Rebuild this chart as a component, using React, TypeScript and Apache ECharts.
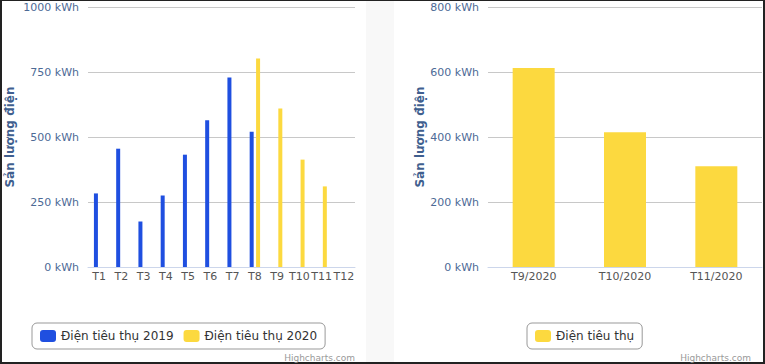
import React, { useEffect, useRef } from "react";
import * as echarts from "echarts";

const months = ["T1", "T2", "T3", "T4", "T5", "T6", "T7", "T8", "T9", "T10", "T11", "T12"];
const consumption2019 = [283, 455, 175, 275, 432, 564, 729, 520, null, null, null, null];
const consumption2020 = [null, null, null, null, null, null, null, 802, 610, 413, 310, null];
const recentMonths = ["T9/2020", "T10/2020", "T11/2020"];
const recentConsumption = [612, 415, 310];
const seriesNames = ["Điện tiêu thụ 2019", "Điện tiêu thụ 2020", "Điện tiêu thụ"];
const axisTitle = "Sản lượng điện";
const leftMax = 1000;
const leftInterval = 250;
const rightMax = 800;
const rightInterval = 200;

const BLUE = "#1f4fe0";
const YELLOW = "#fcd93f";
const FONT = "DejaVu Sans";
const LABEL_BLUE = "#4d6a96";

function yAxisFor(gridIndex: number, max: number, interval: number, nameGap: number) {
  return {
    type: "value",
    gridIndex,
    min: 0,
    max,
    interval,
    name: axisTitle,
    nameLocation: "middle",
    nameGap,
    nameTextStyle: { color: "#3f5f8f", fontWeight: "bold", fontSize: 12, fontFamily: FONT },
    axisLine: { show: false },
    axisTick: { show: false },
    axisLabel: {
      formatter: (v: number) => `${v} kWh`,
      color: LABEL_BLUE,
      fontSize: 11,
      fontFamily: FONT,
      margin: 9,
    },
    splitLine: { lineStyle: { color: "#c8c8c8", width: 1 } },
  };
}

function xAxisFor(gridIndex: number, data: string[]) {
  return {
    type: "category",
    gridIndex,
    data,
    axisLine: { lineStyle: { color: "#ccd6eb" } },
    axisTick: { alignWithLabel: false, length: 5, lineStyle: { color: "#ccd6eb" } },
    axisLabel: { color: "#555", fontSize: 11, fontFamily: FONT, margin: 4, interval: 0 },
  };
}

export default function App() {
  const ref = useRef<HTMLDivElement>(null);
  useEffect(() => {
    if (!ref.current) return;
    const chart = echarts.init(ref.current, undefined, { renderer: "svg" });
    chart.setOption({
      animation: false,
      backgroundColor: "transparent",
      textStyle: { fontFamily: FONT },
      grid: [
        { left: 88, right: 410, top: 7, bottom: 97 },
        { left: 488, right: 3, top: 7, bottom: 97 },
      ],
      xAxis: [xAxisFor(0, months), xAxisFor(1, recentMonths)],
      yAxis: [
        yAxisFor(0, leftMax, leftInterval, 72),
        yAxisFor(1, rightMax, rightInterval, 62),
      ],
      legend: [
        {
          data: [seriesNames[0], seriesNames[1]],
          left: 32,
          top: 323,
          orient: "horizontal",
          itemWidth: 16,
          itemHeight: 12,
          itemGap: 10,
          icon: "roundRect",
          padding: [7, 8, 7, 8],
          borderColor: "#999",
          borderWidth: 1,
          borderRadius: 5,
          textStyle: { color: "#333", fontSize: 12, fontFamily: FONT },
        },
        {
          data: [seriesNames[2]],
          left: 527,
          top: 323,
          itemWidth: 16,
          itemHeight: 12,
          icon: "roundRect",
          padding: [7, 8, 7, 8],
          borderColor: "#999",
          borderWidth: 1,
          borderRadius: 5,
          textStyle: { color: "#333", fontSize: 12, fontFamily: FONT },
        },
      ],
      graphic: [
        {
          type: "text",
          right: 765 - 355,
          top: 353,
          style: { text: "Highcharts.com", fill: "#999", fontSize: 9, fontFamily: FONT },
        },
        {
          type: "text",
          right: 765 - 751,
          top: 353,
          style: { text: "Highcharts.com", fill: "#999", fontSize: 9, fontFamily: FONT },
        },
      ],
      series: [
        {
          name: seriesNames[0],
          type: "bar",
          xAxisIndex: 0,
          yAxisIndex: 0,
          data: consumption2019,
          barWidth: 4,
          barGap: "60%",
          itemStyle: { color: BLUE },
        },
        {
          name: seriesNames[1],
          type: "bar",
          xAxisIndex: 0,
          yAxisIndex: 0,
          data: consumption2020,
          barWidth: 4,
          barGap: "60%",
          itemStyle: { color: YELLOW },
        },
        {
          name: seriesNames[2],
          type: "bar",
          xAxisIndex: 1,
          yAxisIndex: 1,
          data: recentConsumption,
          barWidth: 42,
          itemStyle: { color: YELLOW },
        },
      ],
    });
    return () => chart.dispose();
  }, []);

  return (
    <div style={{ position: "absolute", left: 0, top: 0, width: 765, height: 364, background: "#222" }}>
      <div style={{ position: "absolute", left: 2, top: 1, width: 761, height: 361, background: "#fff" }} />
      <div style={{ position: "absolute", left: 366, top: 1, width: 28, height: 361, background: "#f8f8f8" }} />
      <div ref={ref} style={{ position: "absolute", left: 0, top: 0, width: 765, height: 364 }} />
    </div>
  );
}
